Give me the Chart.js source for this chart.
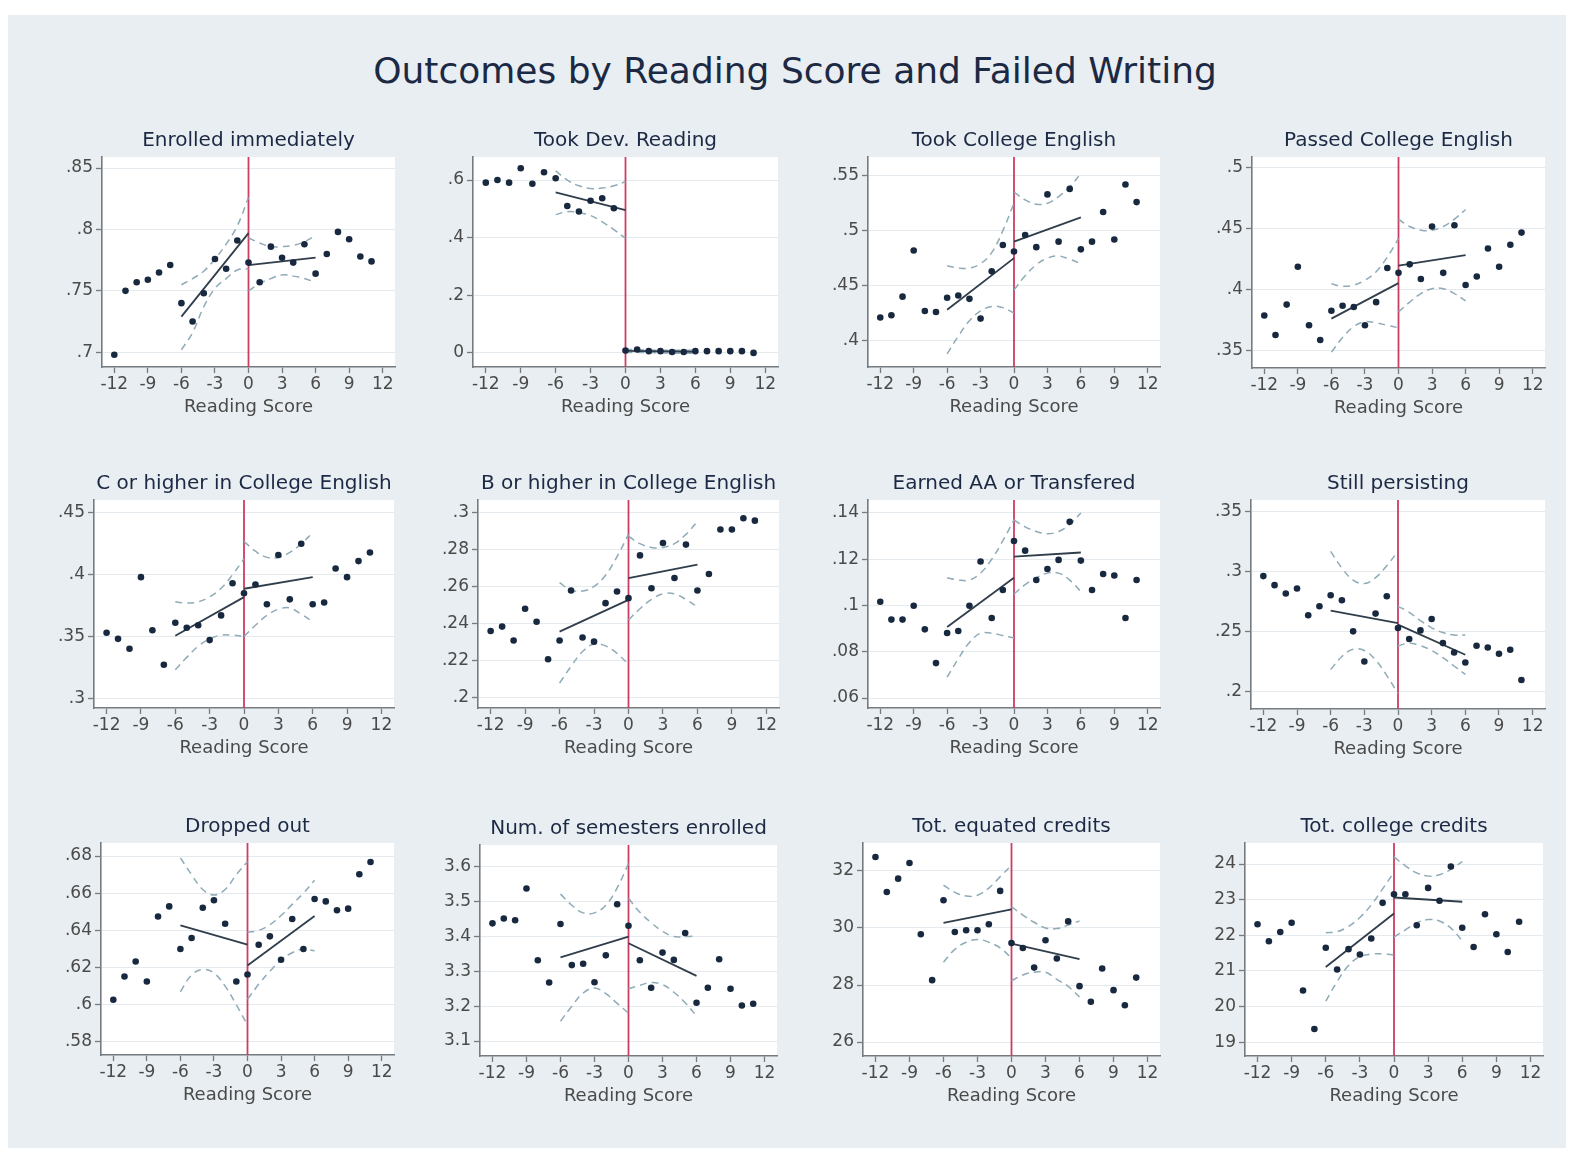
<!DOCTYPE html>
<html><head><meta charset="utf-8">
<script src="https://cdn.jsdelivr.net/npm/chart.js@4.4.1/dist/chart.umd.min.js"></script>
<style>
html,body{margin:0;padding:0;background:#fff;width:1574px;height:1153px;overflow:hidden;font-family:'DejaVu Sans',sans-serif;}
#frame{position:absolute;left:8px;top:15px;width:1558px;height:1133px;background:#e8eef1;}
#main{position:absolute;left:795px;top:53px;transform:translateX(-50%);white-space:nowrap;font-size:36px;line-height:36px;color:#1c2944;}
canvas{position:absolute;}
</style></head><body>
<div id="frame"></div>
<div id="main">Outcomes by Reading Score and Failed Writing</div>
<script>
// ---------- shared x data ----------
const scores = [-12,-11,-10,-9,-8,-7,-6,-5,-4,-3,-2,-1,0,1,2,3,4,5,6,7,8,9,10,11];
const leftBins = [-6,-5,-4,-3,-2,-1,0];
const rightBins = [0,1,2,3,4,5,6];
const fitLeftX = [-6,0];
const fitRightX = [0,6];
const xTicks = [-12,-9,-6,-3,0,3,6,9,12];
const xRange = [-13.1,13.1];
const xTitle = 'Reading Score';
const mainTitle = 'Outcomes by Reading Score and Failed Writing';

// ---------- panel titles ----------
const panelTitles = ['Enrolled immediately','Took Dev. Reading','Took College English','Passed College English',
  'C or higher in College English','B or higher in College English','Earned AA or Transfered','Still persisting',
  'Dropped out','Num. of semesters enrolled','Tot. equated credits','Tot. college credits'];

// ---------- 1 Enrolled immediately ----------
const enrolledY = [.698,.750,.757,.759,.765,.771,.740,.725,.748,.776,.768,.791,.773,.757,.786,.777,.773,.788,.764,.780,.798,.792,.778,.774];
const enrolledFitL = [.729,.797];
const enrolledFitR = [.771,.777];
const enrolledCiLU = [.755,.760,.766,.776,.788,.803,.826];
const enrolledCiLL = [.702,.716,.737,.752,.760,.767,.768];
const enrolledCiRU = [.793,.789,.786,.786,.787,.790,.795];
const enrolledCiRL = [.750,.756,.760,.763,.762,.760,.757];
const enrolledTicks = [.7,.75,.8,.85];
const enrolledRange = [.688,.859];

// ---------- 2 Took Dev. Reading ----------
const devReadY = [.591,.600,.591,.641,.587,.627,.606,.510,.491,.528,.537,.502,.008,.012,.006,.006,.003,.003,.006,.006,.006,.006,.006,.000];
const devReadFitL = [.557,.496];
const devReadFitR = [.007,.004];
const devReadCiLU = [.632,.600,.580,.571,.572,.580,.594];
const devReadCiLL = [.480,.490,.487,.477,.455,.428,.398];
const devReadCiRU = [.013,.011,.010,.009,.009,.009,.010];
const devReadCiRL = [.001,.001,.001,.000,-.001,-.001,-.002];
const devReadTicks = [0,.2,.4,.6];
const devReadRange = [-.049,.68];

// ---------- 3 Took College English ----------
const tookEngY = [.421,.423,.440,.482,.427,.426,.439,.441,.438,.420,.463,.487,.481,.496,.485,.533,.490,.538,.483,.490,.517,.492,.542,.526];
const tookEngFitL = [.428,.475];
const tookEngFitR = [.490,.512];
const tookEngCiLU = [.468,.466,.466,.470,.480,.500,.525];
const tookEngCiLL = [.388,.404,.418,.427,.431,.430,.425];
const tookEngCiRU = [.535,.528,.524,.525,.531,.540,.552];
const tookEngCiRL = [.446,.459,.469,.475,.477,.474,.470];
const tookEngTicks = [.4,.45,.5,.55];
const tookEngRange = [.376,.567];

// ---------- 4 Passed College English ----------
const passEngY = [.379,.363,.388,.419,.371,.359,.383,.387,.386,.371,.390,.418,.414,.421,.409,.452,.414,.453,.404,.411,.434,.419,.437,.447];
const passEngFitL = [.3765,.4056];
const passEngFitR = [.420,.4286];
const passEngCiLU = [.405,.403,.404,.408,.415,.427,.442];
const passEngCiLL = [.349,.361,.370,.374,.373,.371,.369];
const passEngCiRU = [.458,.452,.449,.449,.452,.458,.466];
const passEngCiRL = [.382,.390,.397,.401,.401,.397,.391];
const passEngTicks = [.35,.4,.45,.5];
const passEngRange = [.336,.509];

// ---------- 5 C or higher ----------
const cHighY = [.353,.348,.340,.398,.355,.327,.361,.357,.359,.347,.367,.393,.385,.392,.376,.416,.380,.425,.376,.3775,.405,.398,.411,.418];
const cHighFitL = [.3506,.3818];
const cHighFitR = [.3886,.398];
const cHighCiLU = [.378,.377,.378,.382,.389,.400,.413];
const cHighCiLL = [.323,.333,.342,.348,.351,.351,.350];
const cHighCiRU = [.427,.419,.414,.414,.418,.425,.434];
const cHighCiRL = [.350,.359,.367,.372,.373,.368,.362];
const cHighTicks = [.3,.35,.4,.45];
const cHighRange = [.292,.4605];

// ---------- 6 B or higher ----------
const bHighY = [.236,.2384,.2309,.248,.241,.2208,.2309,.2578,.2325,.2303,.251,.2573,.2537,.2767,.259,.2834,.2645,.2825,.2578,.2667,.2906,.2906,.2967,.2954];
const bHighFitL = [.2357,.2528];
const bHighFitR = [.2645,.2717];
const bHighCiLU = [.262,.258,.2575,.260,.266,.276,.288];
const bHighCiLL = [.208,.217,.225,.229,.228,.224,.218];
const bHighCiRU = [.287,.283,.281,.281,.283,.288,.295];
const bHighCiRL = [.242,.248,.253,.256,.256,.253,.249];
const bHighTicks = [.2,.22,.24,.26,.28,.3];
const bHighRange = [.1946,.3065];

// ---------- 7 Earned AA or Transfered ----------
const earnedY = [.1016,.0939,.0939,.0999,.0897,.0751,.0881,.0890,.0999,.119,.0946,.1067,.1279,.1237,.111,.1158,.1197,.1362,.1194,.1067,.1136,.113,.0946,.111];
const earnedFitL = [.0907,.112];
const earnedFitR = [.1211,.1229];
const earnedCiLU = [.112,.111,.111,.114,.120,.128,.137];
const earnedCiLL = [.069,.077,.084,.088,.088,.087,.086];
const earnedCiRU = [.137,.134,.132,.131,.132,.135,.140];
const earnedCiRL = [.105,.109,.112,.114,.114,.111,.106];
const earnedTicks = [.06,.08,.1,.12,.14];
const earnedRange = [.0557,.1456];

// ---------- 8 Still persisting ----------
const persistY = [.2963,.2887,.2817,.2859,.2635,.271,.2803,.2761,.25,.2248,.2649,.2794,.2528,.2436,.2508,.2604,.2402,.2323,.2239,.2379,.2365,.2312,.2346,.2093];
const persistFitL = [.2674,.257];
const persistFitR = [.2556,.2304];
const persistCiLU = [.317,.303,.293,.290,.295,.305,.317];
const persistCiLL = [.218,.229,.235,.234,.226,.213,.198];
const persistCiRU = [.271,.266,.259,.253,.249,.247,.247];
const persistCiRL = [.238,.240,.238,.234,.228,.221,.214];
const persistTicks = [.2,.25,.3,.35];
const persistRange = [.185,.36];

// ---------- 9 Dropped out ----------
const droppedY = [.6027,.6152,.6233,.6125,.6475,.6529,.63,.6359,.6522,.6562,.6436,.6125,.6163,.6323,.6368,.6242,.6461,.63,.6569,.6556,.6508,.6517,.6702,.6768];
const droppedFitL = [.6427,.6323];
const droppedFitR = [.6211,.6477];
const droppedCiLU = [.679,.670,.662,.659,.662,.670,.677];
const droppedCiLL = [.607,.616,.619,.617,.610,.600,.589];
const droppedCiRU = [.639,.640,.643,.648,.654,.660,.667];
const droppedCiRL = [.603,.611,.618,.624,.628,.630,.629];
const droppedTicks = [.58,.6,.62,.64,.66,.68];
const droppedRange = [.573,.687];

// ---------- 10 Num. of semesters enrolled ----------
const semY = [3.438,3.452,3.447,3.538,3.332,3.268,3.436,3.318,3.322,3.269,3.346,3.493,3.431,3.332,3.253,3.354,3.333,3.41,3.21,3.253,3.335,3.25,3.202,3.207];
const semFitL = [3.34,3.40];
const semFitR = [3.381,3.287];
const semCiLU = [3.522,3.49,3.468,3.468,3.49,3.54,3.61];
const semCiLL = [3.157,3.20,3.238,3.252,3.236,3.208,3.18];
const semCiRU = [3.51,3.47,3.44,3.415,3.40,3.40,3.402];
const semCiRL = [3.25,3.26,3.268,3.262,3.24,3.21,3.172];
const semTicks = [3.1,3.2,3.3,3.4,3.5,3.6];
const semRange = [3.057,3.663];

// ---------- 11 Tot. equated credits ----------
const eqY = [32.49,31.26,31.73,32.28,29.78,28.17,30.97,29.86,29.92,29.92,30.13,31.30,29.47,29.30,28.61,29.57,28.93,30.23,27.96,27.41,28.58,27.82,27.29,28.26];
const eqFitL = [30.18,30.65];
const eqFitR = [29.45,28.91];
const eqCiLU = [31.5,31.25,31.12,31.15,31.4,31.8,32.2];
const eqCiLL = [28.8,29.25,29.5,29.6,29.5,29.3,28.95];
const eqCiRU = [30.75,30.45,30.2,30.0,29.98,30.1,30.25];
const eqCiRL = [28.15,28.35,28.45,28.45,28.2,27.95,27.58];
const eqTicks = [26,28,30,32];
const eqRange = [25.51,32.98];

// ---------- 12 Tot. college credits ----------
const colY = [22.31,21.83,22.09,22.35,20.45,19.37,21.65,21.04,21.61,21.46,21.91,22.91,23.15,23.15,22.28,23.33,22.97,23.93,22.21,21.67,22.59,22.03,21.53,22.38];
const colFitL = [21.11,22.61];
const colFitR = [23.06,22.94];
const colCiLU = [22.07,22.1,22.25,22.5,22.85,23.3,23.77];
const colCiLL = [20.15,20.7,21.15,21.4,21.47,21.48,21.45];
const colCiRU = [24.2,23.95,23.75,23.66,23.7,23.85,24.07];
const colCiRL = [21.95,22.15,22.35,22.44,22.4,22.2,21.85];
const colTicks = [19,20,21,22,23,24];
const colRange = [18.61,24.59];

// ---------- assemble (data references only) ----------
const panelData = [
  [enrolledY,enrolledFitL,enrolledFitR,enrolledCiLU,enrolledCiLL,enrolledCiRU,enrolledCiRL,enrolledTicks,enrolledRange],
  [devReadY,devReadFitL,devReadFitR,devReadCiLU,devReadCiLL,devReadCiRU,devReadCiRL,devReadTicks,devReadRange],
  [tookEngY,tookEngFitL,tookEngFitR,tookEngCiLU,tookEngCiLL,tookEngCiRU,tookEngCiRL,tookEngTicks,tookEngRange],
  [passEngY,passEngFitL,passEngFitR,passEngCiLU,passEngCiLL,passEngCiRU,passEngCiRL,passEngTicks,passEngRange],
  [cHighY,cHighFitL,cHighFitR,cHighCiLU,cHighCiLL,cHighCiRU,cHighCiRL,cHighTicks,cHighRange],
  [bHighY,bHighFitL,bHighFitR,bHighCiLU,bHighCiLL,bHighCiRU,bHighCiRL,bHighTicks,bHighRange],
  [earnedY,earnedFitL,earnedFitR,earnedCiLU,earnedCiLL,earnedCiRU,earnedCiRL,earnedTicks,earnedRange],
  [persistY,persistFitL,persistFitR,persistCiLU,persistCiLL,persistCiRU,persistCiRL,persistTicks,persistRange],
  [droppedY,droppedFitL,droppedFitR,droppedCiLU,droppedCiLL,droppedCiRU,droppedCiRL,droppedTicks,droppedRange],
  [semY,semFitL,semFitR,semCiLU,semCiLL,semCiRU,semCiRL,semTicks,semRange],
  [eqY,eqFitL,eqFitR,eqCiLU,eqCiLL,eqCiRU,eqCiRL,eqTicks,eqRange],
  [colY,colFitL,colFitR,colCiLU,colCiLL,colCiRU,colCiRL,colTicks,colRange]
];

// ---------- layout (plot-region boxes in page pixels: left, top, right, bottom) ----------
const plotBoxes = [
  [102,157,395,367],[473,157,778,367],[868,157,1160,367],[1252,157,1545,368],
  [94,500,394,708],[478,500,779,708],[868,500,1160,708],[1251,500,1545,709],
  [101,843,394,1055],[480,845,777,1056],[863,843,1160,1056],[1245,843,1543,1056]
];

// ---------- styles ----------
const FONT = "'DejaVu Sans', sans-serif";
const AXIS_COLOR = '#767b80';
const GRID_COLOR = '#e4eaed';
const LABEL_COLOR = '#4a4a4a';
const TITLE_COLOR = '#1c2944';
const DOT_COLOR = '#18293f';
const FIT_COLOR = '#303d4b';
const CI_COLOR = '#8fabb7';
const CUT_COLOR = '#cc3d62';
const Y_AXIS_W = 80, X_AXIS_H = 55, TITLE_H = 45, PAD_R = 25;

const plotBg = {
  id:'plotBg',
  beforeDraw(chart){
    const a = chart.chartArea, c = chart.ctx;
    c.save(); c.fillStyle = '#ffffff'; c.fillRect(a.left, a.top, a.right-a.left, a.bottom-a.top); c.restore();
  }
};

function fmtTick(v){ return String(v).replace(/^0\./,'.').replace(/^-0\./,'-.'); }
function pts(xs, ys){ return xs.map((x,i)=>({x:x, y:ys[i]})); }

document.getElementById('main').textContent = mainTitle;

panelData.forEach((p, k) => {
  const [ys, fitL, fitR, ciLU, ciLL, ciRU, ciRL, yTicks, yRange] = p;
  const [L,T,R,B] = plotBoxes[k];
  const cv = document.createElement('canvas');
  const W = Y_AXIS_W + (R-L) + PAD_R;
  const H = TITLE_H + (B-T) + X_AXIS_H;
  cv.width = W; cv.height = H;
  cv.style.left = (L - Y_AXIS_W) + 'px';
  cv.style.top = (T - TITLE_H) + 'px';
  cv.style.width = W + 'px'; cv.style.height = H + 'px';
  document.body.appendChild(cv);

  const ciStyle = {showLine:true, borderColor:CI_COLOR, borderWidth:1.5, borderDash:[7,5], pointRadius:0, tension:0.4, fill:false, order:2};
  const fitStyle = {showLine:true, borderColor:FIT_COLOR, borderWidth:1.8, pointRadius:0, fill:false, order:1};

  new Chart(cv, {
    type:'scatter',
    data:{datasets:[
      {data:pts(scores, ys), pointRadius:3.3, pointBackgroundColor:DOT_COLOR, pointBorderWidth:0, showLine:false, order:0},
      Object.assign({data:pts(fitLeftX, fitL)}, fitStyle),
      Object.assign({data:pts(fitRightX, fitR)}, fitStyle),
      Object.assign({data:pts(leftBins, ciLU)}, ciStyle),
      Object.assign({data:pts(leftBins, ciLL)}, ciStyle),
      Object.assign({data:pts(rightBins, ciRU)}, ciStyle),
      Object.assign({data:pts(rightBins, ciRL)}, ciStyle),
      {data:[{x:0,y:yRange[0]},{x:0,y:yRange[1]}], showLine:true, borderColor:CUT_COLOR, borderWidth:1.8, pointRadius:0, order:3}
    ]},
    options:{
      responsive:false, animation:false, devicePixelRatio:1,
      layout:{padding:{left:0, right:PAD_R, top:0, bottom:0}},
      plugins:{
        legend:{display:false}, tooltip:{enabled:false},
        title:{display:true, text:panelTitles[k], fullSize:false, color:TITLE_COLOR,
          font:{family:FONT, size:20, weight:'normal', lineHeight:1}, padding:{top:19, bottom:6}}
      },
      scales:{
        x:{type:'linear', min:xRange[0], max:xRange[1],
          afterFit(s){ s.height = X_AXIS_H; },
          afterBuildTicks(s){ s.ticks = xTicks.map(v=>({value:v})); },
          grid:{drawOnChartArea:false, tickLength:6, tickColor:AXIS_COLOR, tickWidth:1.3},
          border:{color:AXIS_COLOR, width:1.6},
          ticks:{color:LABEL_COLOR, font:{family:FONT, size:17}, padding:1, maxRotation:0, autoSkip:false},
          title:{display:true, text:xTitle, color:LABEL_COLOR, font:{family:FONT, size:18, lineHeight:1.2}, padding:{top:0,bottom:4}}
        },
        y:{type:'linear', min:yRange[0], max:yRange[1],
          afterFit(s){ s.width = Y_AXIS_W; },
          afterBuildTicks(s){ s.ticks = yTicks.map(v=>({value:v})); },
          grid:{color:GRID_COLOR, lineWidth:1, tickLength:6, tickColor:AXIS_COLOR, tickWidth:1.3},
          border:{color:AXIS_COLOR, width:1.6},
          ticks:{color:LABEL_COLOR, font:{family:FONT, size:17}, padding:3, autoSkip:false, callback:(v)=>fmtTick(v)}
        }
      }
    },
    plugins:[plotBg]
  });
});
</script>
</body></html>
